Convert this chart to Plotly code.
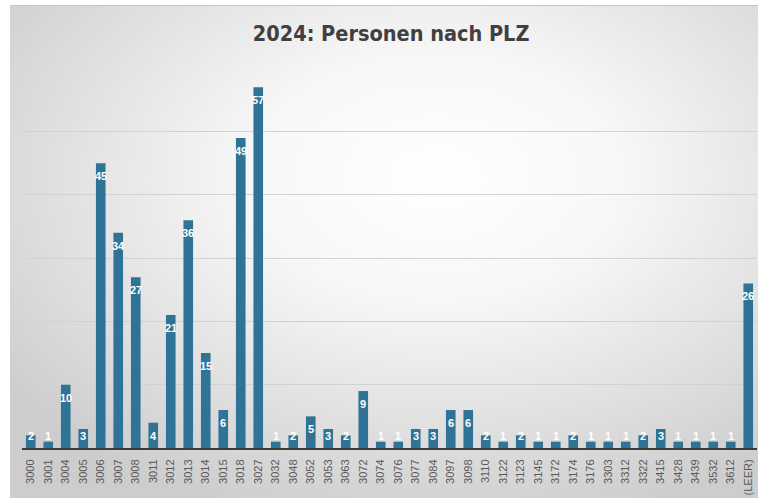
import plotly.graph_objects as go
import base64

categories = ["3000", "3001", "3004", "3005", "3006", "3007", "3008", "3011", "3012", "3013",
              "3014", "3015", "3018", "3027", "3032", "3048", "3052", "3053", "3063", "3072",
              "3074", "3076", "3077", "3084", "3097", "3098", "3110", "3122", "3123", "3145",
              "3172", "3174", "3176", "3303", "3312", "3322", "3415", "3428", "3439", "3532",
              "3612", "(LEER)"]
values = [2, 1, 10, 3, 45, 34, 27, 4, 21, 36,
          15, 6, 49, 57, 1, 2, 5, 3, 2, 9,
          1, 1, 3, 3, 6, 6, 2, 1, 2, 1,
          1, 2, 1, 1, 1, 2, 3, 1, 1, 1,
          1, 26]
title_text = "2024: Personen nach PLZ"

W, H = 758, 499
L, R, T, B = 22, 1, 68, 51
YMAX = 60.05

svg = f'''<svg xmlns="http://www.w3.org/2000/svg" width="748" height="493" viewBox="0 0 748 493">
<defs><radialGradient id="g" cx="0.57" cy="0.35" r="0.72" fx="0.57" fy="0.35">
<stop offset="0" stop-color="#ffffff"/><stop offset="0.35" stop-color="#f7f7f7"/><stop offset="1" stop-color="#cdcdcd"/></radialGradient></defs>
<rect x="0" y="0" width="748" height="493" fill="url(#g)"/>
<line x1="0" y1="0.5" x2="748" y2="0.5" stroke="#c4c4c4" stroke-width="1"/>
</svg>'''
src = "data:image/svg+xml;base64," + base64.b64encode(svg.encode()).decode()

pw = W - L - R
ph = H - T - B
ppu = ph / YMAX
x0 = (10 - L) / pw
y0_top = 1 + (T - 5) / ph
sx = 748 / pw
sy = 493 / ph

fig = go.Figure()
fig.add_trace(go.Bar(
    x=categories, y=values,
    marker=dict(color="#2f7496", line=dict(width=0)),
    hoverinfo="x+y",
))

annotations = []
for i, v in enumerate(values):
    shift = min(13, v * ppu - 12)
    annotations.append(dict(
        x=i, y=v, xref="x", yref="y", text="<b>%d</b>" % v, showarrow=False,
        yanchor="middle", xanchor="center", yshift=-shift,
        font=dict(family="Liberation Sans, Arial, sans-serif", size=11, color="#ffffff"),
    ))

fig.update_layout(
    width=W, height=H,
    margin=dict(l=L, r=R, t=T, b=B, pad=0),
    paper_bgcolor="#ffffff",
    plot_bgcolor="rgba(0,0,0,0)",
    showlegend=False,
    bargap=0.45,
    title=dict(text="<b>" + title_text + "</b>", x=0.516, xanchor="center", y=0.932, yanchor="middle",
               font=dict(family="DejaVu Sans Condensed, Roboto, sans-serif", size=21.5, color="#404040")),
    xaxis=dict(
        type="category", tickangle=-90, range=[-0.5, len(categories) - 0.5],
        tickfont=dict(family="Liberation Sans, Arial, sans-serif", size=11, color="#595959"),
        showgrid=False, showline=True, linecolor="#3f3a36", linewidth=2,
        ticks="outside", ticklen=5, tickcolor="rgba(0,0,0,0)", automargin=False,
    ),
    yaxis=dict(
        range=[0, YMAX], tick0=0, dtick=10, showticklabels=False,
        showgrid=True, gridcolor="#d2d2d2", gridwidth=1,
        zeroline=False, showline=False, fixedrange=True, automargin=False,
    ),
    annotations=annotations,
    images=[dict(source=src, xref="paper", yref="paper", x=x0, y=y0_top,
                 sizex=sx, sizey=sy, xanchor="left", yanchor="top",
                 sizing="stretch", layer="below")],
)

fig.write_html("out.html", config={"displayModeBar": False},
               post_script="document.body.style.margin='0';document.body.style.overflow='hidden';")
